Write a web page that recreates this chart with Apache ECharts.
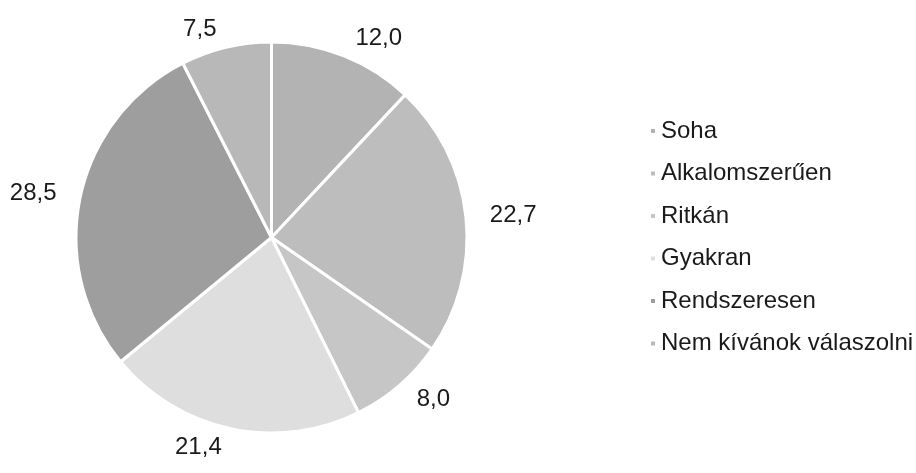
<!DOCTYPE html>
<html>
<head>
<meta charset="utf-8">
<style>
    html, body { margin: 0; padding: 0; background: #fff; }
    #pie-chart { width: 916px; height: 473px; }
</style>
<script src="https://cdn.jsdelivr.net/npm/echarts@6/dist/echarts.min.js"></script>
</head>
<body>
<div id="pie-chart"></div>
<script>
// valaszok (answers) and percentages
const categories = ['Soha', 'Alkalomszerűen', 'Ritkán', 'Gyakran', 'Rendszeresen', 'Nem kívánok válaszolni']
const values = [12.0, 22.7, 8.0, 21.4, 28.5, 7.5]
const colors = ['#b3b3b3', '#bdbdbd', '#c6c6c6', '#dedede', '#9e9e9e', '#b8b8b8']

const font = 'Liberation Sans, Arial, sans-serif'

let chart = echarts.init(document.getElementById('pie-chart'))
let option = {
    color: colors,
    animation: false,
    legend: {
        orient: 'vertical',
        left: 644,
        top: 114,
        icon: 'rect',
        itemWidth: 6,
        itemHeight: 6,
        itemGap: 18.5,
        data: categories,
        textStyle: {
            fontFamily: font,
            fontSize: 24,
            lineHeight: 24,
            color: '#1a1a1a'
        }
    },
    series: [
        {
            type: 'pie',
            center: [271.5, 237.5],
            radius: 195.5,
            startAngle: 90,
            clockwise: true,
            avoidLabelOverlap: false,
            itemStyle: {
                borderColor: '#fff',
                borderWidth: 3
            },
            label: {
                show: true,
                position: 'outside',
                fontFamily: font,
                fontSize: 24,
                color: '#1a1a1a',
                formatter: p => p.value.toFixed(1).replace('.', ',')
            },
            labelLine: {
                show: false,
                length: 19,
                length2: 0
            },
            emphasis: { disabled: true },
            data: categories.map((name, i) => ({ name: name, value: values[i] }))
        }
    ]
}
chart.setOption(option)
</script>
</body>
</html>
